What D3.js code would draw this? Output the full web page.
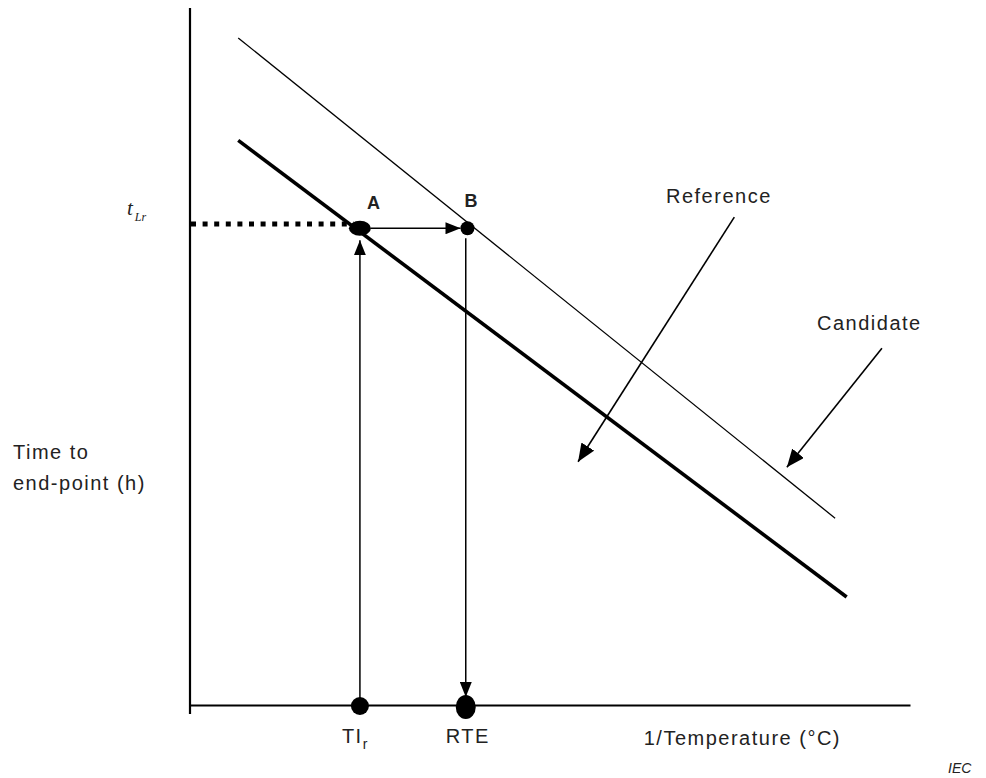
<!DOCTYPE html>
<html>
<head>
<meta charset="utf-8">
<script src="https://cdn.jsdelivr.net/npm/d3@7"></script>
<style>
  body { margin: 0; background: #fff; }
  text { font-family: "Liberation Sans", Arial, sans-serif; fill: #222; }
</style>
</head>
<body>
<div id="chart"></div>
<script>
// schematic values, arbitrary units (x = 1/T, y = time to end-point)
var refLine = [{x: 6.7, y: 81.0}, {x: 91.2, y: 15.5}];
var candLine = [{x: 6.7, y: 95.7}, {x: 89.6, y: 26.8}];
var pointA = {x: 23.6, y: 68.4};
var pointB = {x: 38.4, y: 68.4};
var tLr = 69.0;
var tiR = 23.6;
var rte = 38.3;
// callout arrows [from, to]
var refCallout = [{x: 75.6, y: 70.0}, {x: 53.9, y: 34.9}];
var candCallout = [{x: 96.1, y: 51.2}, {x: 82.9, y: 34.1}];

var width = 986, height = 778;

var svg = d3.select("#chart").append("svg")
    .attr("width", width).attr("height", height);

var x = d3.scaleLinear().domain([0, 100]).range([190, 910]);
var y = d3.scaleLinear().domain([0, 100]).range([705, 8]);

//arrow markers
var defs = svg.append("defs");
function marker(id, len, wid) {
    defs.append("marker")
        .attr("id", id)
        .attr("markerUnits", "userSpaceOnUse")
        .attr("viewBox", "0 0 " + len + " " + wid)
        .attr("refX", len).attr("refY", wid / 2)
        .attr("markerWidth", len).attr("markerHeight", wid)
        .attr("orient", "auto")
        .append("path")
        .attr("d", "M0,0L" + len + "," + (wid / 2) + "L0," + wid + "Z")
        .attr("fill", "#000");
}
marker("arrSmall", 15, 12);
marker("arrBig", 18, 15);

// axes: plain lines, no ticks
svg.append("g")
    .attr("transform", "translate(0," + y(0) + ")")
    .call(d3.axisBottom(x).tickValues([]).tickSizeOuter(0))
    .select(".domain").attr("stroke-width", 2.2);
svg.append("line")
    .attr("x1", x(0)).attr("x2", x(0))
    .attr("y1", y(100)).attr("y2", y(0) + 9)
    .attr("stroke", "#000").attr("stroke-width", 2.2);

var line = d3.line().x(function (d) { return x(d.x); }).y(function (d) { return y(d.y); });

svg.append("path").datum(candLine).attr("d", line)
    .attr("fill", "none").attr("stroke", "#000").attr("stroke-width", 1.3);
svg.append("path").datum(refLine).attr("d", line)
    .attr("fill", "none").attr("stroke", "#000").attr("stroke-width", 3.6);

// dotted t_Lr line
svg.append("line")
    .attr("x1", x(0) + 1).attr("x2", x(pointA.x) - 6)
    .attr("y1", y(tLr)).attr("y2", y(tLr))
    .attr("stroke", "#000").attr("stroke-width", 5)
    .attr("stroke-dasharray", "5,6.6");

// A -> B
svg.append("line")
    .attr("x1", x(pointA.x) + 11).attr("x2", x(pointB.x) - 6)
    .attr("y1", y(pointA.y)).attr("y2", y(pointB.y))
    .attr("stroke", "#000").attr("stroke-width", 1.5)
    .attr("marker-end", "url(#arrSmall)");
// TIr -> A
svg.append("line")
    .attr("x1", x(tiR)).attr("x2", x(tiR))
    .attr("y1", y(0)).attr("y2", y(pointA.y) + 12)
    .attr("stroke", "#000").attr("stroke-width", 1.5)
    .attr("marker-end", "url(#arrSmall)");
// B -> RTE
svg.append("line")
    .attr("x1", x(rte)).attr("x2", x(rte))
    .attr("y1", y(pointB.y) + 10).attr("y2", y(0) - 8)
    .attr("stroke", "#000").attr("stroke-width", 1.5)
    .attr("marker-end", "url(#arrSmall)");

// callouts
[refCallout, candCallout].forEach(function (c) {
    svg.append("line")
        .attr("x1", x(c[0].x)).attr("y1", y(c[0].y))
        .attr("x2", x(c[1].x)).attr("y2", y(c[1].y))
        .attr("stroke", "#000").attr("stroke-width", 1.6)
        .attr("marker-end", "url(#arrBig)");
});

// dots
svg.append("ellipse").attr("cx", x(pointA.x)).attr("cy", y(pointA.y)).attr("rx", 11).attr("ry", 7.5);
svg.append("circle").attr("cx", x(pointB.x) + 1).attr("cy", y(pointB.y)).attr("r", 7);
svg.append("circle").attr("cx", x(tiR)).attr("cy", y(0) + 1).attr("r", 9);
svg.append("ellipse").attr("cx", x(rte)).attr("cy", y(0) + 2).attr("rx", 10).attr("ry", 12);

// labels
var ls = "1.5px";
svg.append("text").attr("x", x(pointA.x) + 7).attr("y", 209)
    .attr("font-size", 18).attr("font-weight", "bold").text("A");
svg.append("text").attr("x", x(pointB.x) - 2).attr("y", 207)
    .attr("font-size", 18).attr("font-weight", "bold").text("B");

svg.append("text").attr("x", 666).attr("y", 203)
    .attr("font-size", 20).attr("letter-spacing", ls).text("Reference");
svg.append("text").attr("x", 817).attr("y", 330)
    .attr("font-size", 20).attr("letter-spacing", ls).text("Candidate");

var yl = svg.append("text").attr("font-size", 20).attr("letter-spacing", ls);
yl.append("tspan").attr("x", 13).attr("y", 459).text("Time to");
yl.append("tspan").attr("x", 13).attr("y", 490).text("end-point (h)");

svg.append("text").attr("x", 841).attr("y", 745)
    .attr("text-anchor", "end").attr("font-size", 20).attr("letter-spacing", ls)
    .text("1/Temperature  (°C)");

var ti = svg.append("text").attr("x", x(tiR) - 18).attr("y", 743)
    .attr("font-size", 20).attr("letter-spacing", ls);
ti.append("tspan").text("TI");
ti.append("tspan").attr("font-size", 14).attr("dy", 6).text("r");

svg.append("text").attr("x", x(rte) + 2).attr("y", 743)
    .attr("text-anchor", "middle").attr("font-size", 20).attr("letter-spacing", ls)
    .text("RTE");

var tl = svg.append("text").attr("x", 127).attr("y", 215)
    .style("font-family", "'Liberation Serif', 'Times New Roman', serif")
    .attr("font-style", "italic").attr("font-size", 21);
tl.append("tspan").text("t");
tl.append("tspan").attr("font-size", 12).attr("dx", 2).attr("dy", 6).text("Lr");

svg.append("text").attr("x", 948).attr("y", 773)
    .attr("font-size", 14).attr("font-style", "italic").text("IEC");
</script>
</body>
</html>
